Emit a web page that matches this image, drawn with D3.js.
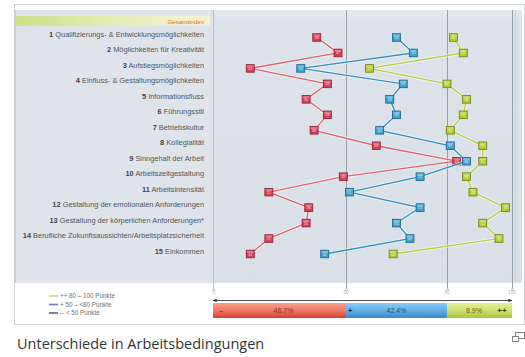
<!DOCTYPE html>
<html>
<head>
<meta charset="utf-8">
<script src="https://cdn.jsdelivr.net/npm/d3@7"></script>
<style>
  html, body { margin: 0; padding: 0; background: #fff; }
  svg { display: block; font-family: "Liberation Sans", Arial, sans-serif; }
</style>
</head>
<body>
<svg id="chart" width="525" height="357"></svg>
<script>
// Dimensions of working conditions (Gesamtindex = header row)
const categories = [
  "1 Qualifizierungs- & Entwicklungsmöglichkeiten",
  "2 Möglichkeiten für Kreativität",
  "3 Aufstiegsmöglichkeiten",
  "4 Einfluss- & Gestaltungsmöglichkeiten",
  "5 Informationsfluss",
  "6 Führungsstil",
  "7 Betriebskultur",
  "8 Kollegialität",
  "9 Sinngehalt der Arbeit",
  "10 Arbeitszeitgestaltung",
  "11 Arbeitsintensität",
  "12 Gestaltung der emotionalen Anforderungen",
  "13 Gestaltung der körperlichen Anforderungen*",
  "14 Berufliche Zukunftsaussichten/Arbeitsplatzsicherheit",
  "15 Einkommen"
];

// Mean index points per dimension for each group
const lowValues  = [39, 47, 14, 43, 35, 43, 38, 59, 83, 49, 21, 36, 35, 21, 14];   // < 50 Punkte
const midValues  = [65, 70, 33, 67, 63, 65, 60, 81, 86, 72, 51, 72, 65, 69, 42];   // 50 – <80 Punkte
const highValues = [82, 85, 57, 80, 86, 85, 81, 91, 91, 86, 88, 98, 91, 96, 64];   // 80 – 100 Punkte

// Axis ticks and share of employees per group
const tickValues = [0, 50, 80, 100];
const groupShares = [48.7, 42.4, 8.9];
const groupSymbols = ["--", "+", "++"];
const legendLabels = ["++ 80 – 100 Punkte", "+ 50 – <80 Punkte", "-- < 50 Punkte"];

const svg = d3.select("#chart");

// Piecewise scale: each score band gets its own stretch of the axis
const x = d3.scaleLinear().domain(tickValues).range([213, 346, 447, 512]);
const y = d3.scalePoint().domain(categories).range([37.5, 254]);

const defs = svg.append("defs");
function vGrad(id, stops) {
  const g = defs.append("linearGradient").attr("id", id).attr("x1", 0).attr("x2", 0).attr("y1", 0).attr("y2", 1);
  stops.forEach(([o, c]) => g.append("stop").attr("offset", o).attr("stop-color", c));
}
function hGrad(id, stops) {
  const g = defs.append("linearGradient").attr("id", id).attr("x1", 0).attr("x2", 1).attr("y1", 0).attr("y2", 0);
  stops.forEach(([o, c]) => g.append("stop").attr("offset", o).attr("stop-color", c));
}
vGrad("gRed",   [[0, "#f6a08e"], [0.5, "#ef7a66"], [1, "#dc3b30"]]);
vGrad("gBlue",  [[0, "#8ccaf0"], [0.5, "#62b0e6"], [1, "#3a88cc"]]);
vGrad("gGreen", [[0, "#e2ee9c"], [0.5, "#cfe070"], [1, "#a9c638"]]);
hGrad("gHead",  [[0, "#cde08a"], [0.55, "#e6eeb8"], [1, "#f6f1d6"]]);
vGrad("gPlot",  [[0, "#e4e9ef"], [0.04, "#dde3ea"], [1, "#dae0e8"]]);

// Outer panel
svg.append("rect").attr("x", 14.5).attr("y", 4.5).attr("width", 510).attr("height", 320)
  .attr("fill", "#fff").attr("stroke", "#cfd3d8");

// Label panel and plot area backgrounds
svg.append("rect").attr("x", 15).attr("y", 10).attr("width", 198).attr("height", 273).attr("fill", "#dfe4eb");
svg.append("rect").attr("x", 213).attr("y", 10).attr("width", 309).attr("height", 273).attr("fill", "url(#gPlot)");
svg.append("line").attr("x1", 15.5).attr("x2", 15.5).attr("y1", 10).attr("y2", 283).attr("stroke", "#c4cad2");
svg.append("line").attr("x1", 515.5).attr("x2", 515.5).attr("y1", 10).attr("y2", 283).attr("stroke", "#c8ced6");

// Header row
const headY = y(categories[0]) - y.step();
svg.append("rect").attr("x", 16).attr("y", headY - 6).attr("width", 194).attr("height", 10).attr("fill", "url(#gHead)");
svg.append("text").attr("x", 204).attr("y", headY + 1.8).attr("text-anchor", "end")
  .attr("font-size", 6.2).attr("fill", "#e0662a").text("Gesamtindex");

// Category labels
svg.append("g").selectAll("text").data(categories).join("text")
  .attr("x", 204).attr("y", d => y(d) - 0.5).attr("text-anchor", "end")
  .attr("font-size", 7.4).attr("fill", "#50555c")
  .each(function (d) {
    const sp = d.indexOf(" ");
    const t = d3.select(this);
    t.append("tspan").attr("font-weight", "bold").attr("fill", "#3e434a").text(d.slice(0, sp));
    t.append("tspan").text(d.slice(sp));
  });

// Vertical grid / tick lines
const gridG = svg.append("g");
gridG.selectAll("line").data(tickValues).join("line")
  .attr("x1", d => Math.round(x(d)) + 0.5).attr("x2", d => Math.round(x(d)) + 0.5)
  .attr("y1", 10).attr("y2", 290)
  .attr("stroke", d => d === 0 ? "#b8bec6" : "#9aa0a8").attr("stroke-width", 1);
gridG.selectAll("circle").data(tickValues).join("circle")
  .attr("cx", d => Math.round(x(d)) + 0.5).attr("cy", 290).attr("r", 1.2)
  .attr("fill", "#fff").attr("stroke", "#a8aeb6").attr("stroke-width", 0.6);
gridG.selectAll("text").data(tickValues).join("text")
  .attr("x", d => x(d) + (d === 0 ? 1 : 0)).attr("y", 293.5).attr("text-anchor", "middle")
  .attr("font-size", 4.5).attr("fill", "#b5bac0").text(d => d);

// Series lines and markers
const series = [
  { values: lowValues,  line: "#e0606e", fill: "#d83e58", stroke: "#8e1f30" },
  { values: midValues,  line: "#2f8fc2", fill: "#3ea2d2", stroke: "#1c5f82" },
  { values: highValues, line: "#b2d03c", fill: "#b4cc2e", stroke: "#6e7e14" }
];
const line = d3.line().x(d => x(d.v)).y(d => y(d.c));

series.forEach(s => {
  const pts = categories.map((c, i) => ({ c, v: s.values[i] }));
  const g = svg.append("g");
  g.append("path").datum(pts).attr("d", line).attr("fill", "none")
    .attr("stroke", "#ffffff").attr("stroke-opacity", 0.55).attr("stroke-width", 3.2);
  g.append("path").datum(pts).attr("d", line).attr("fill", "none")
    .attr("stroke", s.line).attr("stroke-width", 1.3);
  const m = g.selectAll("g").data(pts).join("g")
    .attr("transform", d => `translate(${x(d.v)},${y(d.c)})`);
  m.append("rect").attr("x", -4).attr("y", -3.8).attr("width", 8).attr("height", 7.6)
    .attr("fill", s.fill).attr("stroke", s.stroke).attr("stroke-width", 0.8);
  m.append("rect").attr("x", -3.2).attr("y", -3.1).attr("width", 6.4).attr("height", 2)
    .attr("fill", "#fff").attr("opacity", 0.3);
  m.append("text").attr("y", 1.5).attr("text-anchor", "middle").attr("font-size", 3.6)
    .attr("fill", "#fff").attr("opacity", 0.75).text(d => Math.round(d.v));
});

// Double-headed axis arrow
defs.append("marker").attr("id", "arr").attr("viewBox", "0 0 10 10").attr("refX", 9).attr("refY", 5)
  .attr("markerWidth", 5).attr("markerHeight", 5).attr("orient", "auto-start-reverse")
  .append("path").attr("d", "M0,1 L10,5 L0,9 Z").attr("fill", "#222");
svg.append("line").attr("x1", x(0)).attr("x2", x(100)).attr("y1", 300.5).attr("y2", 300.5)
  .attr("stroke", "#222").attr("stroke-width", 0.8)
  .attr("marker-start", "url(#arr)").attr("marker-end", "url(#arr)");

// Group share bar
const bands = [
  { from: 0,  to: 50,  fill: "url(#gRed)",   txt: "#8a2a1c", sym: "#7a1d14" },
  { from: 50, to: 80,  fill: "url(#gBlue)",  txt: "#1f4f80", sym: "#13294a" },
  { from: 80, to: 100, fill: "url(#gGreen)", txt: "#5a6418", sym: "#3c4a08" }
];
const barG = svg.append("g");
bands.forEach((b, i) => {
  const x0 = x(b.from), x1 = x(b.to);
  barG.append("rect").attr("x", x0).attr("y", 303).attr("width", x1 - x0).attr("height", 15).attr("fill", b.fill);
  const symX = i === 2 ? x1 - 10 : x0 + (i === 0 ? 8 : 4);
  barG.append("text").attr("x", symX).attr("y", 313).attr("text-anchor", "middle")
    .attr("font-size", i === 0 ? 6 : 8).attr("font-weight", "bold").attr("fill", b.sym).text(groupSymbols[i]);
  const cx = i === 2 ? x0 + 27 : (x0 + x1) / 2 + (i === 0 ? 4 : 0);
  barG.append("text").attr("x", cx).attr("y", 313).attr("text-anchor", "middle")
    .attr("font-size", 7).attr("fill", b.txt).text(groupShares[i].toFixed(1) + "%");
});

// Legend
const legColors = ["#cbdc6a", "#6a76c6", "#5e6c62"];
const leg = svg.append("g");
legendLabels.forEach((t, i) => {
  const ly = 296 + i * 8.5;
  leg.append("line").attr("x1", 49).attr("x2", 58).attr("y1", ly).attr("y2", ly)
    .attr("stroke", legColors[i]).attr("stroke-width", 1.6);
  leg.append("text").attr("x", 60).attr("y", ly + 2).attr("font-size", 6.3).attr("fill", "#6a6f76").text(t);
});

// Title below the panel
svg.append("text").attr("x", 17).attr("y", 349).attr("font-family", "'Open Sans', sans-serif")
  .attr("font-size", 14.5).attr("fill", "#333").text("Unterschiede in Arbeitsbedingungen");

// Expand icon
const ic = svg.append("g").attr("fill", "none").attr("stroke", "#777").attr("stroke-width", 0.9);
ic.append("rect").attr("x", 515.5).attr("y", 332.5).attr("width", 9).attr("height", 6);
ic.append("rect").attr("x", 512.5).attr("y", 336.5).attr("width", 6).attr("height", 5).attr("fill", "#fff");
</script>
</body>
</html>
